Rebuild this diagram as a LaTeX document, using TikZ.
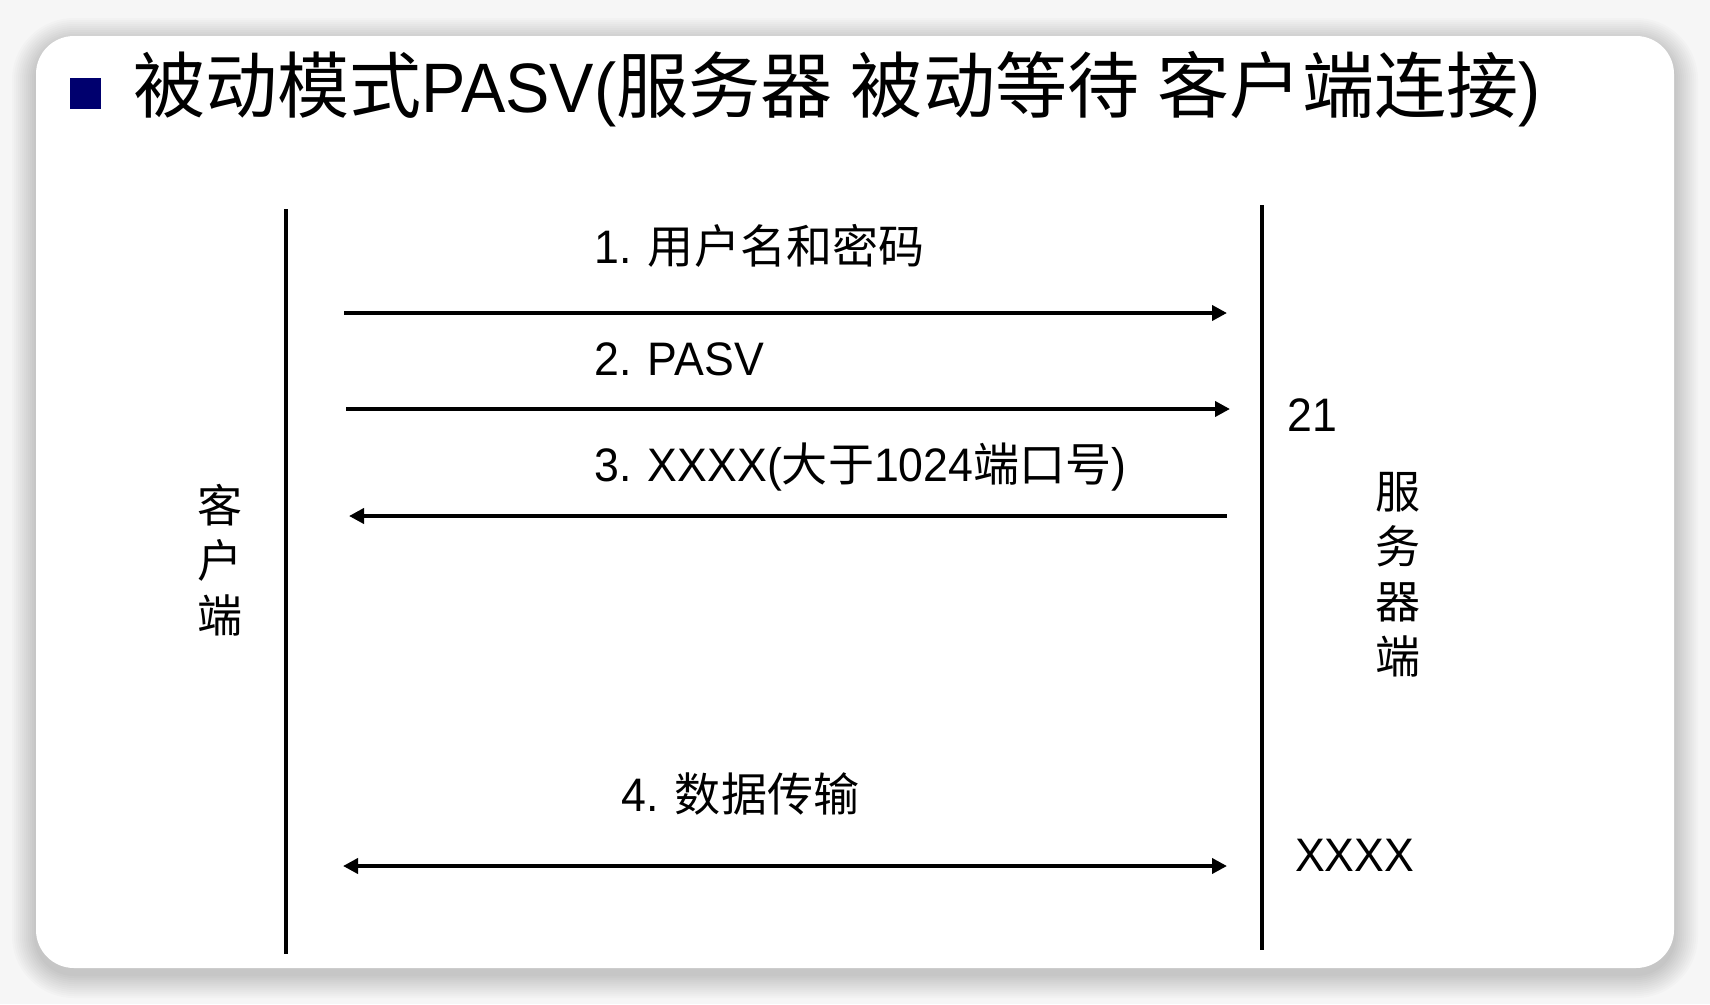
\documentclass[tikz,border=0pt]{standalone}
\usepackage{fontspec}
\setmainfont{Liberation Sans}[FakeStretch=0.95]
\newfontfamily\cjkT{Noto Sans CJK SC}[Scale=1.03]
\newfontfamily\cjkL{Noto Sans CJK SC}[Scale=0.98]
\usetikzlibrary{arrows.meta}
\definecolor{navyblue}{RGB}{0,0,110}
\definecolor{pagebg}{RGB}{246,246,246}
\tikzset{
  lifeline/.style={line width=4.5pt},
  msg/.style={line width=4.8pt},
  tipR/.style={-{Triangle[length=15pt,width=15pt]}},
  tipL/.style={{Triangle[length=15pt,width=15pt]}-},
  tipLR/.style={{Triangle[length=15pt,width=15pt]}-{Triangle[length=15pt,width=15pt]}},
  lbl/.style={anchor=base west, inner sep=0pt, font=\fontsize{47}{56}\selectfont},
  vlbl/.style={align=center, inner sep=0pt, font=\cjkL\fontsize{46}{55}\selectfont},
}
\newcommand\zhL[1]{{\cjkL #1}}
\newcommand\zhT[1]{{\cjkT #1}}
\begin{document}
\begin{tikzpicture}[x=1pt,y=-1pt]
\useasboundingbox (0,0) rectangle (1710,1004);
\fill[pagebg] (0,0) rectangle (1710,1004);
% shadow
\foreach \r in {24,22,...,2}{
  \fill[black,opacity=0.016,rounded corners=38+\r] (36-\r,42-\r) rectangle (1674+\r,974+\r);
}
% card
\fill[white,rounded corners=38] (36,36) rectangle (1674,968);
% title
\node[fill=navyblue, minimum width=31pt, minimum height=31pt, inner sep=0pt] (bullet) at (85,93) {};
\node[anchor=base west, inner sep=0pt, font=\fontsize{70}{84}\selectfont] (title) at (133,112)
  {\zhT{被动模式}PASV(\zhT{服务器} \zhT{被动等待} \zhT{客户端连接})};
% lifelines
\coordinate (ctop) at (286,209);
\coordinate (cbot) at (286,954);
\coordinate (stop) at (1262,205);
\coordinate (sbot) at (1262,950);
\draw[lifeline] (ctop) -- (cbot);
\draw[lifeline] (stop) -- (sbot);
% message ends
\coordinate (a1) at (344,313);  \coordinate (b1) at (1227,313);
\coordinate (a2) at (346,409);  \coordinate (b2) at (1230,409);
\coordinate (a3) at (349,516);  \coordinate (b3) at (1227,516);
\coordinate (a4) at (343,866);  \coordinate (b4) at (1227,866);
\draw[msg,tipR] (a1) -- (b1);
\draw[msg,tipR] (a2) -- (b2);
\draw[msg,tipL] (a3) -- (b3);
\draw[msg,tipLR] (a4) -- (b4);
% labels
\node[lbl] (l1) at (594,263) {1. \zhL{用户名和密码}};
\node[lbl] (l2) at (594,375) {2. PASV};
\node[lbl] (l3) at (594,481) {3. XXXX(\zhL{大于}1024\zhL{端口号})};
\node[lbl] (l4) at (621,811) {4. \zhL{数据传输}};
\node[lbl] (p21) at (1287,431) {21};
\node[lbl] (pxx) at (1295,871) {XXXX};
\node[vlbl] (client) at (220,560) {客\\户\\端};
\node[vlbl] (server) at (1398,575) {服\\务\\器\\端};
\end{tikzpicture}
\end{document}
